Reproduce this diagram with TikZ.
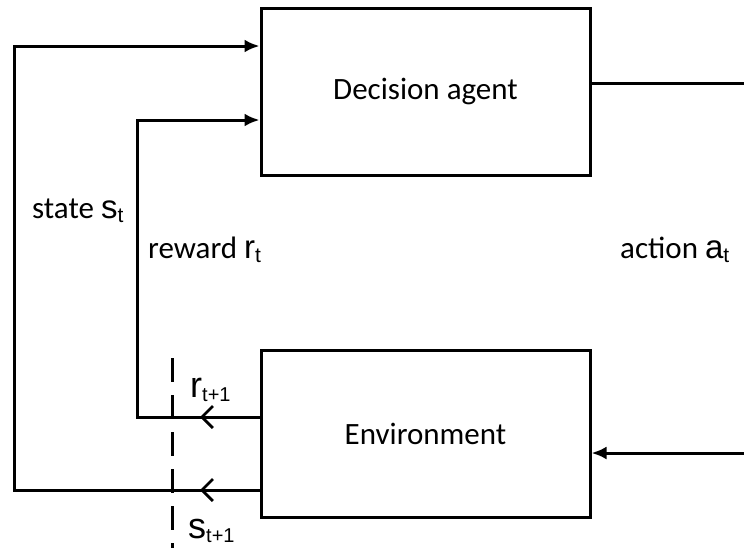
\documentclass[tikz,border=0pt]{standalone}
\usepackage{fontspec}
\setmainfont{Carlito}
\newfontfamily\symfont{Liberation Sans}
\usetikzlibrary{arrows.meta}
\newcommand{\basefs}{\fontsize{31}{36}\selectfont}
% \symb{size}{subsize}{letter}{subscript}
\newcommand{\symb}[4]{{\symfont\fontsize{#1}{#1}\selectfont #3\raisebox{-4pt}{\fontsize{#2}{#2}\selectfont #4}}}
\begin{document}
\begin{tikzpicture}[x=1pt,y=-1pt,
  box/.style={draw,line width=3pt,minimum width=329pt,minimum height=167pt,font=\basefs,inner sep=0pt},
  conn/.style={line width=3pt},
  tip/.style={-{Latex[length=15pt,width=13pt]}},
  chev/.style={-{Straight Barb[length=11pt,width=22pt,line width=2.8pt]}},
  lbl/.style={font=\basefs,inner sep=0pt,anchor=base west}
]
\useasboundingbox (0,0) rectangle (744,552);
\node[box] (agent) at (425.5,91.5) {\raisebox{-3pt}{Decision agent}};
\node[box] (env) at (425.5,433.5) {\raisebox{-2pt}{Environment}};
\coordinate (aR) at (744,83);
\coordinate (eR) at (744,453);
\coordinate (oL1) at (14,46);
\coordinate (oL2) at (14,490);
\coordinate (iL1) at (137,120);
\coordinate (iL2) at (137,417);
\coordinate (c1) at (200,490);
\coordinate (c2) at (200,417);
\draw[conn] (agent.east |- aR) -- (aR);
\draw[conn,tip] (eR) -- (env.east |- eR);
\draw[conn,tip] (env.west |- oL2) -- (oL2) -- (oL1) -- (agent.west |- oL1);
\draw[conn,tip] (env.west |- iL2) -- (iL2) -- (iL1) -- (agent.west |- iL1);
\draw[conn,chev] (env.west |- c1) -- (c1);
\draw[conn,chev] (env.west |- c2) -- (c2);
\coordinate (dTop) at (172,358);
\coordinate (dBot) at (172,548);
\draw[line width=3pt,dash pattern=on 24pt off 13pt] (dTop) -- (dBot);
\node[lbl] (st) at (32,218) {state \symb{33}{21}{s}{t}};
\node[lbl] (rt) at (148,258) {reward \symb{33}{21}{r}{t}};
\node[lbl] (at) at (620,258) {action \symb{33}{21}{a}{t}};
\node[lbl] (r1) at (190,397) {\symb{36}{20}{r}{t+1}};
\node[lbl] (s1) at (188,538) {\symb{36}{20}{s}{t+1}};
\end{tikzpicture}
\end{document}
